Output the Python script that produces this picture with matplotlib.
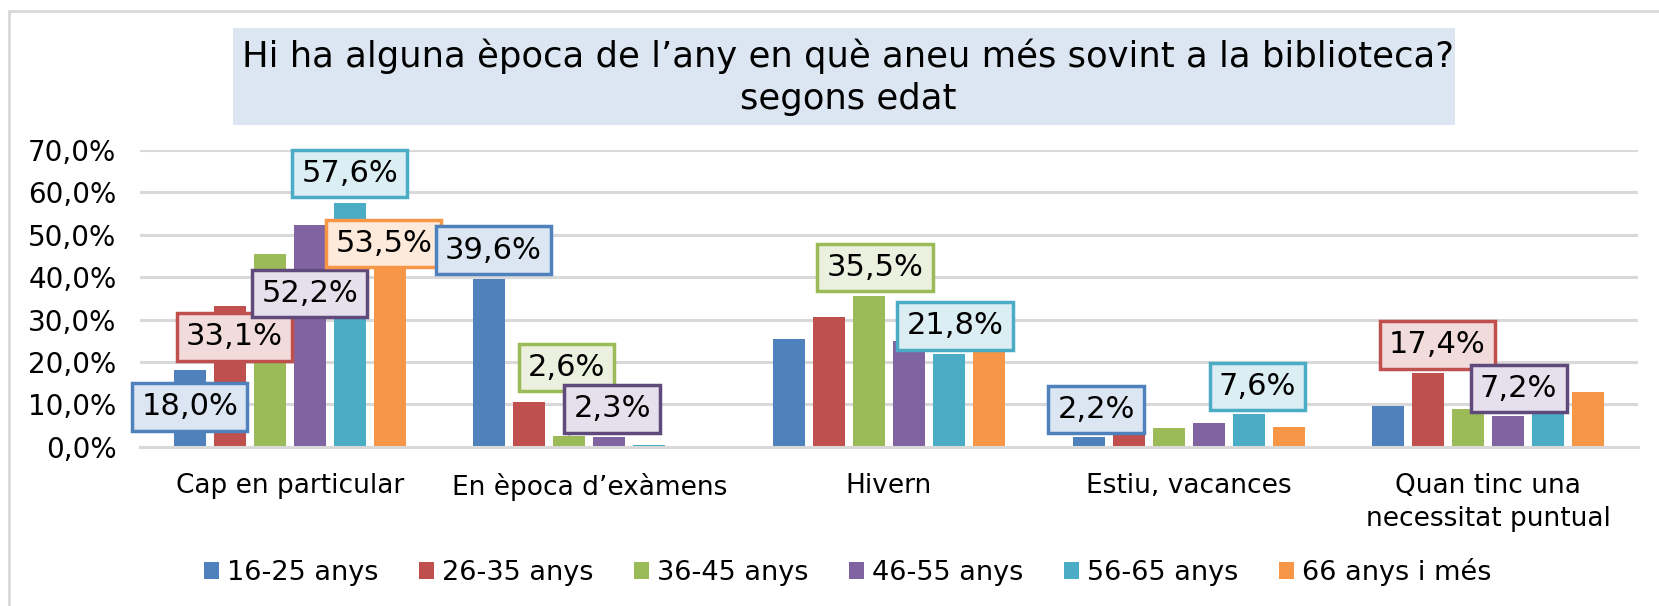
import matplotlib
matplotlib.use("Agg")
import numpy as np
from matplotlib import pyplot as plt
from matplotlib.patches import Rectangle

plt.rcParams['font.family'] = ['DejaVu Sans']

categories = ["Cap en particular", "En època d’exàmens", "Hivern",
              "Estiu, vacances", "Quan tinc una\nnecessitat puntual"]
series_names = ["16-25 anys", "26-35 anys", "36-45 anys",
                "46-55 anys", "56-65 anys", "66 anys i més"]

v_16_25 = [18.0, 39.6, 25.4, 2.2, 9.5]
v_26_35 = [33.1, 10.6, 30.6, 3.6, 17.4]
v_36_45 = [45.5, 2.6, 35.5, 4.5, 9.0]
v_46_55 = [52.2, 2.3, 25.0, 5.6, 7.2]
v_56_65 = [57.6, 0.4, 21.8, 7.6, 10.5]
v_66_mes = [53.5, 0.0, 24.0, 4.7, 12.9]
values = [v_16_25, v_26_35, v_36_45, v_46_55, v_56_65, v_66_mes]

colors = ["#4F81BD", "#C0504D", "#9BBB59", "#8064A2", "#4BACC6", "#F79646"]
edges = ["#4F81BD", "#C0504D", "#9BBB59", "#604A7B", "#4BACC6", "#F79646"]
fills = ["#DCE6F2", "#F2DCDB", "#EBF1DE", "#E6E0EC", "#DBEEF4", "#FDEADA"]

# labelled bars: (series, category, label x offset, label height in %)
labels = [
    (0, 0, 0.0, 9.4), (1, 0, 0.015, 25.9), (3, 0, 0.0, 36.2),
    (4, 0, 0.0, 64.5), (5, 0, -0.02, 48.0),
    (0, 1, 0.013, 46.4), (2, 1, -0.01, 18.7), (3, 1, 0.01, 8.9),
    (2, 2, 0.02, 42.3), (4, 2, 0.02, 28.5),
    (0, 3, 0.025, 8.7), (4, 3, 0.03, 14.2),
    (1, 4, 0.03, 24.0), (3, 4, 0.035, 13.7),
]

W, H = 1659, 606
fig = plt.figure(figsize=(W / 100, H / 100), dpi=100)

# chart frame
fig.patches.append(Rectangle((9 / W, -0.1), 1.2, 1 - 11 / H + 0.1, transform=fig.transFigure,
                             fill=False, edgecolor="#D9D9D9", linewidth=2))

ax = fig.add_axes([140 / W, 1 - 446.7 / H, (1638 - 140) / W, (446.7 - 150) / H])

x = np.arange(len(categories))
step = 0.1335
bw = 0.107
for i, (name, vals) in enumerate(zip(series_names, values)):
    pos = x + (i - 2.5) * step
    ax.bar(pos, np.array(vals) / 100, bw, color=colors[i], label=name, zorder=2)

for s, c, dx, ly in labels:
    bx = c + (s - 2.5) * step
    v = values[s][c]
    txt = f"{v:.1f}%".replace(".", ",")
    ax.text(bx + dx, ly / 100, txt, ha="center", va="center", fontsize=22, zorder=5,
            bbox=dict(boxstyle="square,pad=0.3", facecolor=fills[s],
                      edgecolor=edges[s], linewidth=2.5))

# leader line for the small green bar
ax.plot([1 - 0.5 * step - 0.012, 1 - 0.5 * step], [0.16, values[2][1] / 100],
        color="#999999", linewidth=1, zorder=4)

ax.set_xlim(-0.5, len(categories) - 0.5)
ax.set_ylim(0, 0.7)
ax.set_yticks(np.arange(0, 0.71, 0.1))
ax.set_yticklabels([f"{t * 100:.1f}%".replace(".", ",") for t in np.arange(0, 0.71, 0.1)],
                   fontsize=20)
ax.set_xticks(x)
ax.set_xticklabels(categories, fontsize=19, linespacing=1.35)
ax.tick_params(axis="x", length=0, pad=19)
ax.tick_params(axis="y", length=0, pad=17)
ax.grid(axis="y", color="#D9D9D9", linewidth=2.2, zorder=0)
for sp in ["top", "right", "left"]:
    ax.spines[sp].set_visible(False)
ax.spines["bottom"].set_color("#D9D9D9")
ax.spines["bottom"].set_linewidth(2.2)
ax.set_axisbelow(True)

# title in a shaded box
fig.patches.append(Rectangle((233 / W, 1 - 125 / H), (1455 - 233) / W, (125 - 28) / H,
                             transform=fig.transFigure, facecolor="#DCE6F2", edgecolor="none"))
fig.text(848 / W, 1 - 77 / H,
         "Hi ha alguna època de l’any en què aneu més sovint a la biblioteca?\nsegons edat",
         ha="center", va="center", fontsize=25.5, linespacing=1.3)

fig.legend(loc="center", bbox_to_anchor=(848 / W, 1 - 572 / H), ncol=6, frameon=False,
           fontsize=19.5, handlelength=0.55, handleheight=0.55, handletextpad=0.3,
           columnspacing=1.5)

fig.savefig("out.png", dpi=100)
